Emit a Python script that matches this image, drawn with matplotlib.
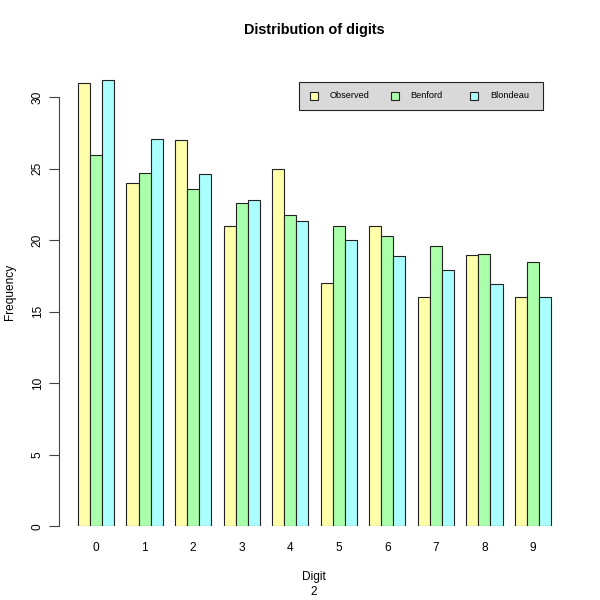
import matplotlib
matplotlib.use("Agg")
import matplotlib.pyplot as plt
from matplotlib.patches import Rectangle
import numpy as np

digits = ["0", "1", "2", "3", "4", "5", "6", "7", "8", "9"]
observed = [31, 24, 27, 21, 25, 17, 21, 16, 19, 16]
benford = [25.97, 24.72, 23.61, 22.63, 21.77, 20.98, 20.27, 19.62, 19.01, 18.45]
blondeau = [31.2, 27.05, 24.65, 22.85, 21.35, 20.05, 18.9, 17.9, 16.95, 16.0]
series_names = ["Observed", "Benford", "Blondeau"]
colors = ["#FFFFAA", "#AAFFAA", "#AAFFFF"]

plt.rcParams['font.family'] = ['Liberation Sans', 'DejaVu Sans']

W = 600.0
fig = plt.figure(figsize=(6, 6), dpi=100)
# plot region in pixels: x 59..570, y=0 at 526.3, 14.3 px/unit
ytop = 33.0
ppu = 14.3
ax = fig.add_axes([59 / W, (W - 526.3) / W, 511 / W, ytop * ppu / W])
ax.set_xlim(-0.56, 41.56)
ax.set_ylim(0, ytop)

series = [observed, benford, blondeau]
for j, (vals, col) in enumerate(zip(series, colors)):
    lefts = [1 + g * 4 + j for g in range(len(digits))]
    ax.bar(lefts, vals, width=1.0, align='edge', color=col,
           edgecolor='#222222', linewidth=0.8)

for s in ax.spines.values():
    s.set_visible(False)
ax.spines['left'].set_visible(True)
ax.spines['left'].set_bounds(0, 30)
ax.spines['left'].set_color('#444444')
ax.set_yticks([0, 5, 10, 15, 20, 25, 30])
ax.set_yticklabels(["0", "5", "10", "15", "20", "25", "30"], rotation=90,
                   va='center', fontsize=8.6)
ax.tick_params(axis='y', length=7, width=0.8, color='#444444', pad=4)

centers = [1 + g * 4 + 1.5 for g in range(len(digits))]
ax.set_xticks(centers)
ax.set_xticklabels(digits, fontsize=8.6)
ax.tick_params(axis='x', length=0, pad=11)

fig.text(314 / W, 1 - 30 / W, "Distribution of digits", ha='center', va='center',
         fontsize=10.4, fontweight='bold')
fig.text(314 / W, 1 - 577 / W, "Digit", ha='center', va='center', fontsize=8.6)
fig.text(314 / W, 1 - 592 / W, "2", ha='center', va='center', fontsize=8.6)
fig.text(10 / W, 1 - 292 / W, "Frequency", ha='center', va='center',
         rotation=90, fontsize=8.6)

# legend box
def px(x, y):
    return (x / W, 1 - y / W)

lx0, ly0, lx1, ly1 = 299, 82, 543, 110
fig.patches.append(Rectangle(px(lx0, ly1), (lx1 - lx0) / W, (ly1 - ly0) / W,
                             transform=fig.transFigure, facecolor='#D9D9D9',
                             edgecolor='#222222', linewidth=0.8))
sq_x = [310, 391, 470]
tx_x = [330, 410, 490]
sq = 8
for name, col, sx, tx in zip(series_names, colors, sq_x, tx_x):
    fig.patches.append(Rectangle(px(sx, 96 + sq / 2), sq / W, sq / W,
                                 transform=fig.transFigure, facecolor=col,
                                 edgecolor='#222222', linewidth=0.8))
    fig.text(tx / W, 1 - 96 / W, name, ha='left', va='center', fontsize=6.6)

fig.savefig("out.png", dpi=100)
